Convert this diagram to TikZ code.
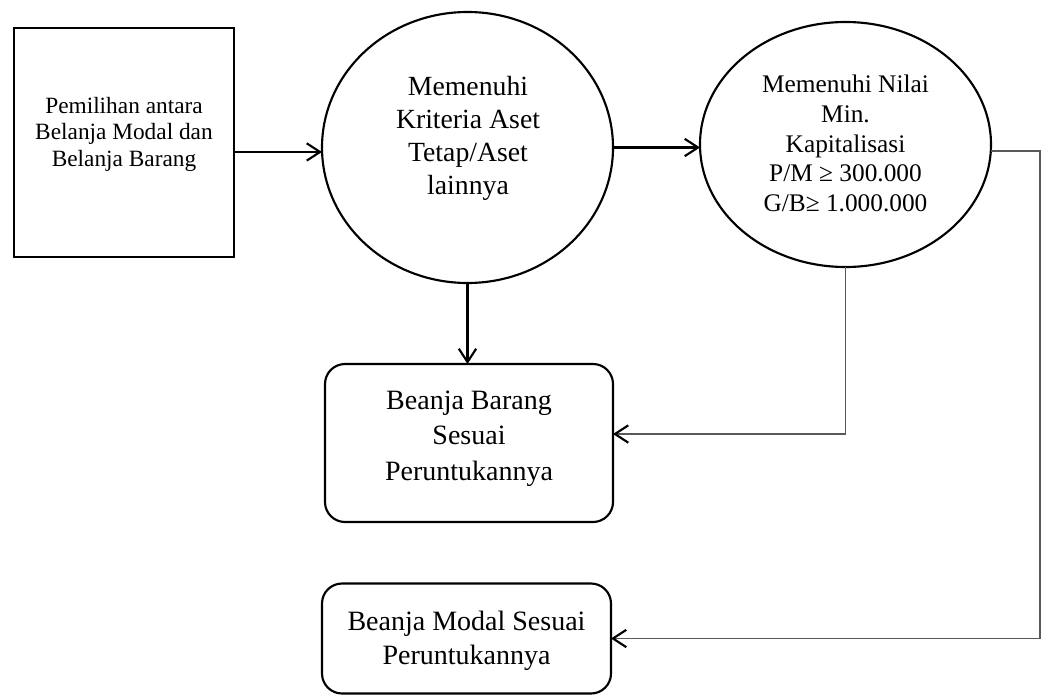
\documentclass[tikz,border=0pt]{standalone}
\usepackage{fontspec}
\setmainfont{Liberation Serif}
\usetikzlibrary{arrows.meta,shapes.geometric}
\begin{document}
\begin{tikzpicture}[x=0.75pt,y=-0.75pt,
  shapeline/.style={draw=black,line width=1.6pt,inner sep=0pt,outer sep=0pt},
  sqbox/.style={shapeline,rectangle},
  rbox/.style={shapeline,rectangle,rounded corners=15pt},
  oval/.style={shapeline,ellipse},
  txt/.style={align=center,inner sep=0pt},
  arr/.style={draw=black,line width=1.6pt,-{Straight Barb[length=10pt,width=13pt,line width=1.6pt]}},
  garr/.style={draw=black!65,line width=1.1pt,-{Straight Barb[length=10pt,width=13pt,line width=1.6pt,color=black]}}]
\useasboundingbox (0,0) rectangle (1048,696);

\node[sqbox,minimum width=165pt,minimum height=171.75pt] (b1) at (124,142.5) {};
\node[oval,minimum width=218.25pt,minimum height=203.25pt] (c1) at (467.5,147.5) {};
\node[oval,minimum width=218.25pt,minimum height=183.75pt] (e2) at (845.5,144.5) {};
\node[rbox,minimum width=216pt,minimum height=118.5pt] (b3) at (469,443) {};
\node[rbox,minimum width=216.75pt,minimum height=82.5pt] (b4) at (466.5,638.5) {};

\node[txt,font=\fontsize{17.5}{19.9}\selectfont] (t1) at (124,134) {Pemilihan antara\\Belanja Modal dan\\Belanja Barang};
\node[txt,font=\fontsize{20.8}{24.75}\selectfont] (t2) at (468,138.5) {Memenuhi\\Kriteria Aset\\Tetap/Aset\\lainnya};
\node[txt,font=\fontsize{19}{22.3}\selectfont] (t3) at (845.5,143.5) {Memenuhi Nilai\\Min.\\Kapitalisasi\\P/M ≥ 300.000\\G/B≥ 1.000.000};
\node[txt,font=\fontsize{21}{26.6}\selectfont] (t4) at (469,438.5) {Beanja Barang\\Sesuai\\Peruntukannya};
\node[txt,font=\fontsize{21}{25.5}\selectfont] (t5) at (466.5,641) {Beanja Modal Sesuai\\Peruntukannya};

\coordinate (rc) at (1040,0);

\draw[arr] ([yshift=-7.1pt]b1.east) -- ([yshift=-7.1pt]b1.east -| c1.west);
\draw[arr] (c1.east) -- (c1.east -| e2.west);
\draw[arr] (c1.south) -- (c1.south |- b3.north);
\draw[garr] (e2.south) |- ([yshift=6.75pt]b3.east);
\draw[garr] ([yshift=-4.9pt]e2.east) -| (rc |- b4.east) -- (b4.east);
\end{tikzpicture}
\end{document}
